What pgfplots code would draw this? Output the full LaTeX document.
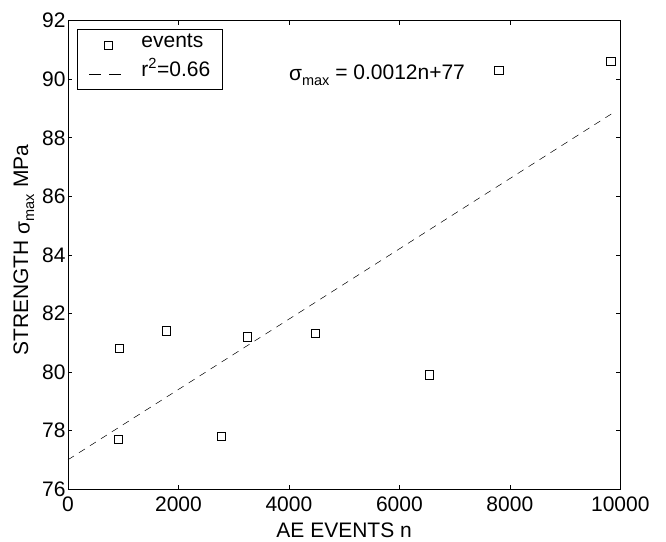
\documentclass[border=0pt]{standalone}
\usepackage{pgfplots}
\pgfplotsset{compat=1.18}
\usepackage{fontspec}
\setmainfont{Liberation Sans}
\newcommand{\sub}[2]{\raisebox{-#1}{\fontsize{14.5}{15}\selectfont #2}}
\pgfplotsset{
  markimg/.style={legend image code/.code={\draw[##1] plot coordinates {(19pt,0pt)};}},
  lineimg/.style={legend image code/.code={\draw[##1, dash pattern=on 11.5pt off 8.5pt] (0pt,0pt) -- (32pt,0pt);}},
}
\begin{document}
\begin{tikzpicture}
\begin{axis}[
  scale only axis, width=552.3pt, height=468.3pt,
  xmin=0, xmax=10000, ymin=76, ymax=92,
  xtick={0,2000,4000,6000,8000,10000},
  ytick={76,78,80,82,84,86,88,90,92},
  scaled x ticks=false,
  /pgf/number format/1000 sep={},
  /pgf/number format/assume math mode=true,
  tick align=inside, major tick length=4.5pt,
  axis line style={line width=0.9pt},
  tick style={line width=0.6pt, black},
  font=\fontsize{21}{25}\selectfont,
  xticklabel style={yshift=-4pt},
  yticklabel style={xshift=1pt},
  xlabel={AE EVENTS n},
  xlabel style={at={(axis description cs:0.5,-0.104)}, anchor=base},
  ylabel={STRENGTH \raisebox{-1.5pt}{σ}\sub{6pt}{max} MPa},
  ylabel style={at={(axis description cs:-0.072,0.51)}, anchor=base},
  legend cell align=left,
  legend style={at={(axis description cs:0.0158,0.9816)}, anchor=north west,
    draw=black, line width=0.9pt, inner xsep=11.8pt, inner ysep=1pt,
    column sep=20pt, row sep=0.6pt,
    nodes={inner xsep=0pt, inner ysep=3pt, text height=13.4pt, text depth=9.3pt},
    font=\fontsize{21}{25}\selectfont},
]
\addplot[only marks, mark=square, mark size=4.2pt, line width=0.6pt, black, markimg]
  coordinates {(911,77.70) (930,80.81) (1775,81.40) (2778,77.81) (3243,81.20)
               (4480,81.31) (6540,79.90) (7802,90.31) (9830,90.62)};
\addlegendentry{events}
\addplot[black, line width=0.5pt, dash pattern=on 7pt off 6pt, lineimg]
  coordinates {(0,77.0) (9860,88.84)};
\addlegendentry{r\textsuperscript{2}=0.66}
\node[anchor=base west, inner sep=0pt] at (axis cs:4000,90.0)
  {\raisebox{-1.5pt}{σ}\sub{6pt}{max} = 0.0012n+77};
\end{axis}
\pgfresetboundingbox
\path ([shift={(-68pt,-52pt)}]current axis.south west) rectangle ([shift={(45.7pt,20.7pt)}]current axis.north east);
\end{tikzpicture}
\end{document}
